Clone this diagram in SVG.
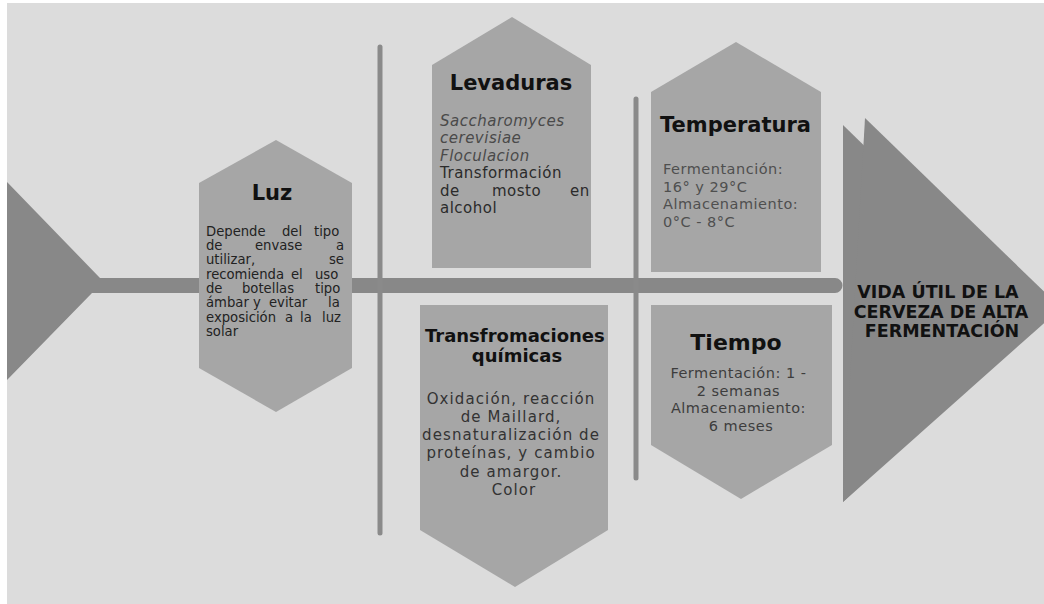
<svg xmlns="http://www.w3.org/2000/svg" width="1044" height="604" viewBox="0 0 1044 604">
<style>
.bg{fill:#dcdcdc}
.node{fill:#a6a6a6}
.dark{fill:#888888}
.conn{stroke:#8a8a8a;stroke-width:5;stroke-linecap:round;fill:none}
.title{font-family:"DejaVu Sans","Liberation Sans",sans-serif;font-weight:bold;fill:#111;text-anchor:middle}
.body{font-family:"DejaVu Sans","Liberation Sans",sans-serif}
</style>
<rect x="0" y="0" width="1044" height="604" fill="#ffffff"/>
<rect class="bg" x="7" y="3" width="1037" height="601"/>
<g id="connectors">
<polygon class="dark" points="7,182 100,278 100,293 92,293 7,380"/>
<path class="dark" d="M92,278 H835 A7.5,7.5 0 0 1 835,293 H92 Z"/>
<line class="conn" x1="380" y1="47" x2="380" y2="533"/>
<line class="conn" x1="636" y1="99" x2="636" y2="478"/>
</g>
<g id="luz">
<polygon class="node" points="276,140 352,183 352,368 276,412 199,368 199,183"/>
<text class="title" x="272" y="200" font-size="21">Luz</text>
<text class="body" font-size="13.2" fill="#222">
<tspan x="206" y="235.5">Depende</tspan><tspan x="282" y="235.5">del</tspan><tspan x="314" y="235.5">tipo</tspan>
<tspan x="206" y="250">de</tspan><tspan x="255" y="250">envase</tspan><tspan x="336" y="250">a</tspan>
<tspan x="206" y="264">utilizar,</tspan><tspan x="329" y="264">se</tspan>
<tspan x="206" y="278.5">recomienda</tspan><tspan x="291" y="278.5">el</tspan><tspan x="315" y="278.5">uso</tspan>
<tspan x="206" y="292.5">de</tspan><tspan x="242" y="292.5">botellas</tspan><tspan x="315" y="292.5">tipo</tspan>
<tspan x="206" y="307">ámbar</tspan><tspan x="253" y="307">y</tspan><tspan x="269" y="307">evitar</tspan><tspan x="328" y="307">la</tspan>
<tspan x="206" y="321.5">exposición</tspan><tspan x="285" y="321.5">a</tspan><tspan x="300" y="321.5">la</tspan><tspan x="322" y="321.5">luz</tspan>
<tspan x="206" y="336">solar</tspan>
</text>
</g>
<g id="levaduras">
<polygon class="node" points="432,65 512,17 591,65 591,268 432,268"/>
<text class="title" x="511" y="90" font-size="21">Levaduras</text>
<text class="body" font-size="15" letter-spacing="0.5">
<tspan x="440" y="126" font-style="italic" fill="#4a4a4a">Saccharomyces</tspan>
<tspan x="440" y="143" font-style="italic" fill="#4a4a4a">cerevisiae</tspan>
<tspan x="440" y="161" font-style="italic" fill="#4a4a4a">Floculacion</tspan>
<tspan x="440" y="178" fill="#2b2b2b">Transformación</tspan>
<tspan x="440" y="196" fill="#2b2b2b">de</tspan><tspan x="492" y="196" fill="#2b2b2b">mosto</tspan><tspan x="570" y="196" fill="#2b2b2b">en</tspan>
<tspan x="440" y="213" fill="#2b2b2b">alcohol</tspan>
</text>
</g>
<g id="temperatura">
<polygon class="node" points="651,92 736,42 821,92 821,272 651,272"/>
<text class="title" x="735.5" y="132" font-size="21">Temperatura</text>
<text class="body" font-size="14.5" letter-spacing="0.5" fill="#4f4f4f">
<tspan x="663" y="174">Fermentanción:</tspan>
<tspan x="663" y="192">16° y 29°C</tspan>
<tspan x="663" y="209">Almacenamiento:</tspan>
<tspan x="663" y="227">0°C - 8°C</tspan>
</text>
</g>
<g id="transformaciones">
<polygon class="node" points="420,305 608,305 608,530 515,587 420,530"/>
<text class="title" font-size="18">
<tspan x="518" y="342">Transfromaciones</tspan>
<tspan x="517" y="362">químicas</tspan>
</text>
<text class="body" font-size="15" letter-spacing="1.1" fill="#333" text-anchor="middle">
<tspan x="514" y="404">Oxidación, reacción</tspan>
<tspan x="514" y="422">de Maillard,</tspan>
<tspan x="514" y="440">desnaturalización de</tspan>
<tspan x="514" y="458">proteínas, y cambio</tspan>
<tspan x="514" y="477">de amargor.</tspan>
<tspan x="514" y="495">Color</tspan>
</text>
</g>
<g id="tiempo">
<polygon class="node" points="651,305 832,305 832,445 741,499 651,445"/>
<text class="title" x="736" y="350" font-size="22">Tiempo</text>
<text class="body" font-size="14.5" letter-spacing="0.5" fill="#3d3d3d" text-anchor="middle">
<tspan x="741" y="378">Fermentación: 1 -</tspan>
<tspan x="741" y="396">2 semanas</tspan>
<tspan x="741" y="413">Almacenamiento:</tspan>
<tspan x="741" y="431">6 meses</tspan>
</text>
</g>
<g id="vida-util">
<polygon class="dark" points="843,125 1039,316 843,502"/>
<polygon class="dark" points="865,118 1061,308 843,502"/>
<text class="title" font-size="17.5">
<tspan x="941" y="298">VIDA ÚTIL DE LA</tspan>
<tspan x="944" y="318">CERVEZA DE ALTA</tspan>
<tspan x="942" y="337">FERMENTACIÓN</tspan>
</text>
</g>
</svg>
